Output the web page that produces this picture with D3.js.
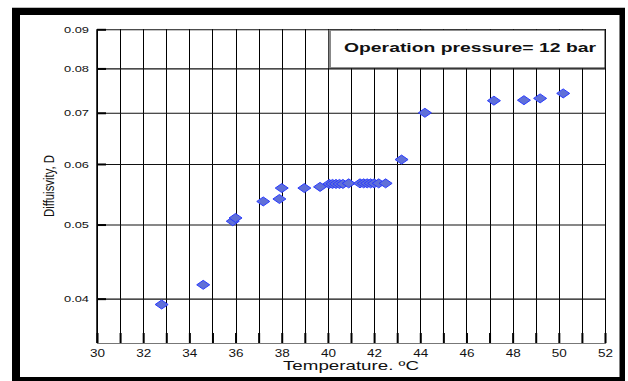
<!DOCTYPE html>
<html>
<head>
<meta charset="utf-8">
<script src="https://cdn.jsdelivr.net/npm/d3@7"></script>
<style>
  html, body { margin: 0; padding: 0; background: #fff; }
  svg { display: block; }
  text { font-family: "Liberation Sans", Arial, sans-serif; }
</style>
</head>
<body>
<svg id="chart" width="628" height="381"></svg>
<script>
// Measured diffusivity versus temperature at 12 bar
const temperature = [32.8, 34.6, 35.88, 36.0, 37.2, 37.9, 38.0, 38.98, 39.66,
  40.06, 40.2, 40.35, 40.5, 40.65, 40.9,
  41.39, 41.55, 41.7, 41.85, 42.0, 42.2, 42.5,
  43.19, 44.2, 47.19, 48.49, 49.19, 50.19];
const diffusivity = [0.0393, 0.0417, 0.0505, 0.0510, 0.0536, 0.0540, 0.0558, 0.0558, 0.0560,
  0.0565, 0.0565, 0.0565, 0.0565, 0.0565, 0.0566,
  0.0566, 0.0566, 0.0566, 0.0566, 0.0566, 0.0566, 0.0566,
  0.0608, 0.0700, 0.0726, 0.0727, 0.0731, 0.0742];

const xDomain = [30, 52];
const yDomain = [0.035, 0.09];
const xGridValues = d3.range(30, 53, 1);
const xTickLabels = d3.range(30, 53, 2);
const yTickLabels = [0.04, 0.05, 0.06, 0.07, 0.08, 0.09];
const legendText = "Operation pressure= 12 bar";
const xTitle = "Temperature. \u00BAC";
const yTitle = "Diffuisvity, D";

const points = temperature.map((t, i) => ({ t, d: diffusivity[i] }));

const svg = d3.select("#chart");
const plot = { left: 97, right: 605, top: 29.3, bottom: 343 };

// page frame
svg.append("line").attr("x1", 12).attr("x2", 625).attr("y1", 7.5).attr("y2", 7.5)
  .attr("stroke", "#bdbdbd").attr("stroke-width", 1);
svg.append("rect").attr("x", 12).attr("y", 8).attr("width", 613).attr("height", 380)
  .attr("fill", "#000");
svg.append("rect").attr("x", 20).attr("y", 15).attr("width", 599.5).attr("height", 362)
  .attr("fill", "#fff");

const x = d3.scaleLinear().domain(xDomain).range([plot.left, plot.right]);
const y = d3.scaleLog().domain(yDomain).range([plot.bottom, plot.top]);
const plotH = plot.bottom - plot.top;
const plotW = plot.right - plot.left;

// vertical grid at every degree
svg.append("g")
  .attr("transform", `translate(0,${plot.bottom})`)
  .call(d3.axisBottom(x).tickValues(xGridValues).tickSize(-plotH).tickFormat(""))
  .call(g => g.select(".domain").remove())
  .call(g => g.selectAll(".tick line").attr("stroke", "#000").attr("stroke-width", 1)
    .attr("shape-rendering", "crispEdges"));

// horizontal grid at labelled diffusivities
svg.append("g")
  .attr("transform", `translate(${plot.left},0)`)
  .call(d3.axisLeft(y).tickValues(yTickLabels).tickSize(-plotW).tickFormat(""))
  .call(g => g.select(".domain").remove())
  .call(g => g.selectAll(".tick line").attr("stroke", "#111").attr("stroke-width", 1.1));

// inner major ticks
svg.append("g")
  .attr("transform", `translate(0,${plot.bottom})`)
  .call(d3.axisBottom(x).tickValues(xGridValues).tickSize(-10).tickFormat(""))
  .call(g => g.select(".domain").attr("stroke", "#777").attr("stroke-width", 1.2))
  .call(g => g.selectAll(".tick line").attr("stroke", "#000").attr("stroke-width", 2));
svg.append("g")
  .attr("transform", `translate(${plot.left},0)`)
  .call(d3.axisLeft(y).tickValues(yTickLabels).tickSize(-9).tickFormat(""))
  .call(g => g.select(".domain").remove())
  .call(g => g.selectAll(".tick line").attr("stroke", "#000").attr("stroke-width", 2));

// left axis line
svg.append("line")
  .attr("x1", plot.left).attr("x2", plot.left)
  .attr("y1", plot.top).attr("y2", plot.bottom)
  .attr("stroke", "#000").attr("stroke-width", 1.5);

// tick labels
svg.append("g")
  .attr("transform", `translate(0,${plot.bottom})`)
  .call(d3.axisBottom(x).tickValues(xTickLabels).tickSize(0).tickPadding(0).tickFormat(d3.format("d")))
  .call(g => g.select(".domain").remove())
  .call(g => g.selectAll("text")
    .attr("dy", null).attr("y", 13.5)
    .attr("font-family", "'Liberation Sans', Arial, sans-serif")
    .attr("font-size", 10).attr("textLength", 15).attr("lengthAdjust", "spacingAndGlyphs")
    .attr("fill", "#111"));

svg.append("g")
  .attr("transform", `translate(${plot.left - 8},0)`)
  .call(d3.axisLeft(y).tickValues(yTickLabels).tickSize(0).tickPadding(0).tickFormat(d3.format(".2f")))
  .call(g => g.select(".domain").remove())
  .call(g => g.selectAll("text")
    .attr("font-family", "'Liberation Sans', Arial, sans-serif")
    .attr("font-size", 9.5).attr("textLength", 25).attr("lengthAdjust", "spacingAndGlyphs")
    .attr("fill", "#111"));

// legend box
const lg = svg.append("g");
lg.append("rect").attr("x", 330).attr("y", 30).attr("width", 275).attr("height", 38)
  .attr("fill", "#fff").attr("stroke", "#222").attr("stroke-width", 1);
lg.append("rect").attr("x", 328.5).attr("y", 30).attr("width", 2.5).attr("height", 38)
  .attr("fill", "#888");
lg.append("text").attr("x", 470).attr("y", 51.8)
  .attr("text-anchor", "middle").attr("font-size", 13.5).attr("font-weight", "bold")
  .attr("textLength", 252).attr("lengthAdjust", "spacingAndGlyphs")
  .attr("fill", "#111").text(legendText);

// data markers
const diamond = "M-6.5,0L0,-4.5L6.5,0L0,4.5Z";
svg.append("g").selectAll("path")
  .data(points)
  .join("path")
  .attr("d", diamond)
  .attr("transform", d => `translate(${x(d.t)},${y(d.d)})`)
  .attr("fill", "#6070d8")
  .attr("stroke", "#2a3cff")
  .attr("stroke-width", 1);

// axis titles
svg.append("text").attr("x", (plot.left + plot.right) / 2).attr("y", 370)
  .attr("text-anchor", "middle").attr("font-size", 13)
  .attr("textLength", 136).attr("lengthAdjust", "spacingAndGlyphs")
  .attr("fill", "#111").text(xTitle);

svg.append("text")
  .attr("transform", "translate(53.5,186) rotate(-90)")
  .attr("text-anchor", "middle")
  .attr("font-family", "'Liberation Sans Narrow', 'DejaVu Sans Condensed', sans-serif")
  .attr("font-size", 15)
  .attr("textLength", 62).attr("lengthAdjust", "spacingAndGlyphs")
  .attr("fill", "#111").text(yTitle);
</script>
</body>
</html>
